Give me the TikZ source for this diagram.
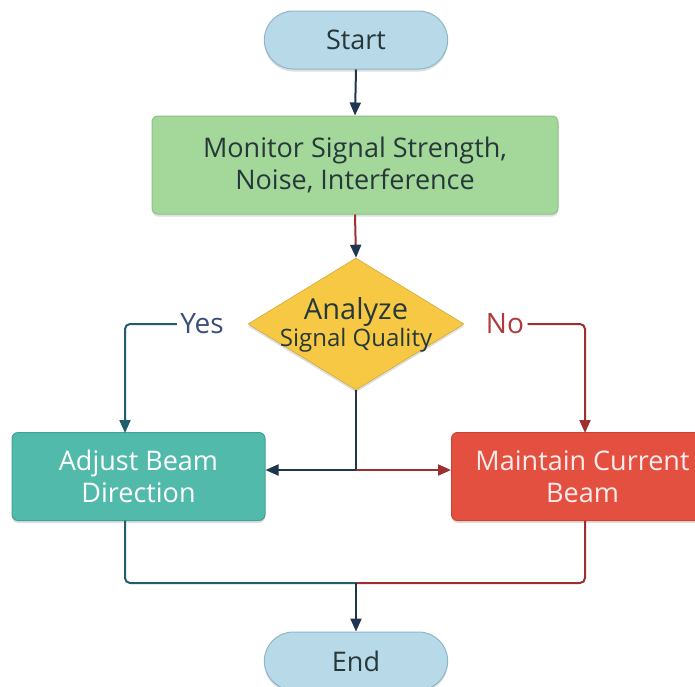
\documentclass[tikz,border=0pt]{standalone}
\usepackage{fontspec}
\setmainfont{Open Sans}
\usetikzlibrary{arrows.meta,shapes.geometric,shapes.misc,shadows}
\definecolor{navy}{HTML}{1F3550}
\definecolor{dred}{HTML}{9E2F2F}
\definecolor{dteal}{HTML}{1F5F6B}
\definecolor{pill}{HTML}{B8D9E8}
\definecolor{pillb}{HTML}{8DB6CB}
\definecolor{green}{HTML}{A3D89A}
\definecolor{greenb}{HTML}{8CC483}
\definecolor{yellowd}{HTML}{F7C844}
\definecolor{teal}{HTML}{52BAAA}
\definecolor{tealb}{HTML}{3FA394}
\definecolor{redb}{HTML}{E4503F}
\definecolor{redbb}{HTML}{CC4334}
\definecolor{txt}{HTML}{27383A}
\definecolor{yescol}{HTML}{3B4F7A}
\definecolor{nocol}{HTML}{B0393A}
\tikzset{
  shad/.style={drop shadow={opacity=0.25,shadow xshift=0pt,shadow yshift=-2.5pt}},
  pillnode/.style={rounded rectangle, fill=pill, draw=pillb, line width=1pt, minimum width=190pt, minimum height=58pt, text=txt, font=\fontsize{27}{32}\selectfont, shad},
  boxnode/.style={rectangle, rounded corners=6pt, line width=1pt, align=center, font=\fontsize{27}{32}\selectfont, shad},
  conn/.style={line width=2pt, rounded corners=5pt},
  tip/.style={-{Triangle[length=13pt,width=11pt]}},
}
\begin{document}
\begin{tikzpicture}[x=1pt,y=-1pt]
\clip (0,0) rectangle (695,686);
\fill[white] (0,0) rectangle (695,686);
\node[pillnode] (start) at (356,40) {Start};
\node[boxnode, fill=green, draw=greenb, minimum width=406pt, minimum height=98pt, text=txt] (mon) at (355,165) {Monitor Signal Strength,\\Noise, Interference};
\node[diamond, fill=yellowd, draw=yellowd!85!black, line width=0.6pt, minimum width=216pt, minimum height=132pt, inner sep=0pt, shad] (dec) at (356,324) {};
\node[align=center, text=txt] (dectxt) at (356,325) {\fontsize{29}{32}\selectfont Analyze\\[1pt]\fontsize{24}{28}\selectfont Signal Quality};
\node[boxnode, fill=teal, draw=tealb, minimum width=253pt, minimum height=88pt, text=white] (adj) at (138.5,476.5) {Adjust Beam\\Direction};
\node[boxnode, fill=redb, draw=redbb, minimum width=262pt, minimum height=88pt, text=white!92!red, anchor=west] (main) at (451,476.5) {Maintain Current\\Beam};
\node[pillnode] (end) at (356,661) {End};
\node[text=yescol, font=\fontsize{28}{32}\selectfont] (yes) at (202,324) {Yes};
\node[text=nocol, font=\fontsize{28}{32}\selectfont] (no) at (505,324) {No};
\coordinate (split) at (356,470);
\coordinate (merge) at (356,583);
% connectors
\draw[conn, navy, tip] (start.south) -- (mon.north);
\draw[conn, dred, -{Triangle[length=13pt,width=11pt,color=navy]}] (mon.south) -- (dec.north);
\draw[conn, dteal, tip] (yes.west) -- (125,324) -- (125,433);
\draw[conn, dred, tip] (no.east) -- (585,324) -- (585,433);
\draw[conn, navy] (dec.south) -- (split);
\draw[conn, navy, tip] (split) -- (adj.east |- split);
\draw[conn, dred, tip] (split) -- (main.west |- split);
\draw[conn, dteal] (125,520.5) -- (125,583) -- (merge);
\draw[conn, dred] (585,520.5) -- (585,583) -- (merge);
\draw[conn, navy, tip] (merge) -- (end.north);
\end{tikzpicture}
\end{document}
